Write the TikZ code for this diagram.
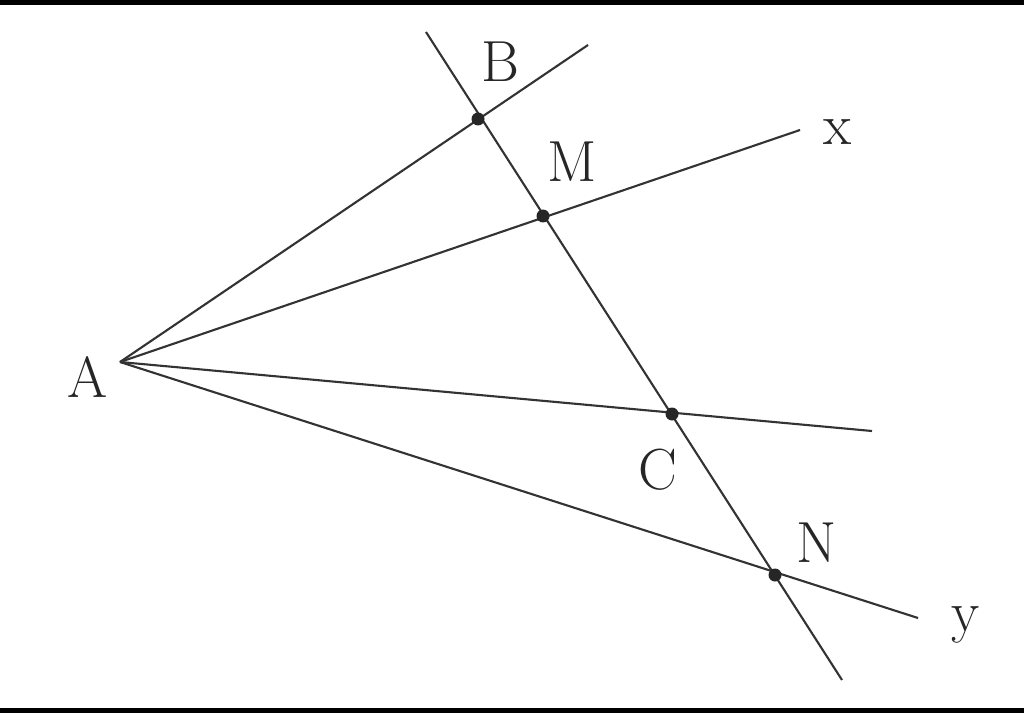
\documentclass[tikz,border=0pt]{standalone}
\begin{document}
\begin{tikzpicture}[x=0.02cm,y=-0.02cm,
  ln/.style={line width=1.2pt,black!80},
  pt/.style={circle,fill=black!85,inner sep=0pt,minimum size=0.26cm},
  lbl/.style={font=\fontsize{33}{33}\selectfont,text=black!85,inner sep=0pt}]
\useasboundingbox (0,0) rectangle (1024,713);
\fill[white] (0,0) rectangle (1024,713);
\fill[black] (0,0) rectangle (1024,5);
\fill[black] (0,708) rectangle (1024,713);
% points
\coordinate (A) at (120,362);
\coordinate (B) at (478,119);
\coordinate (M) at (543,216);
\coordinate (C) at (672,414);
\coordinate (N) at (775,575);
% line ends
\coordinate (Bend) at (588,45);
\coordinate (Xend) at (800,130);
\coordinate (Cend) at (872,431);
\coordinate (Yend) at (918,618);
\coordinate (Ltop) at (426,32);
\coordinate (Lbot) at (842,680);
% lines
\draw[ln] (A) -- (Bend);
\draw[ln] (A) -- (Xend);
\draw[ln] (A) -- (Cend);
\draw[ln] (A) -- (Yend);
\draw[ln] (Ltop) -- (Lbot);
% dots
\node[pt] (pB) at (B) {};
\node[pt] (pM) at (M) {};
\node[pt] (pC) at (C) {};
\node[pt] (pN) at (N) {};
% labels
\node[lbl] (lA) at (88,377) {A};
\node[lbl] (lB) at (500,62) {B};
\node[lbl] (lM) at (572,162) {M};
\node[lbl] (lC) at (658,470) {C};
\node[lbl] (lN) at (817,543) {N};
\node[lbl] (lx) at (838,132) {x};
\node[lbl] (ly) at (966,625) {y};
\end{tikzpicture}
\end{document}
